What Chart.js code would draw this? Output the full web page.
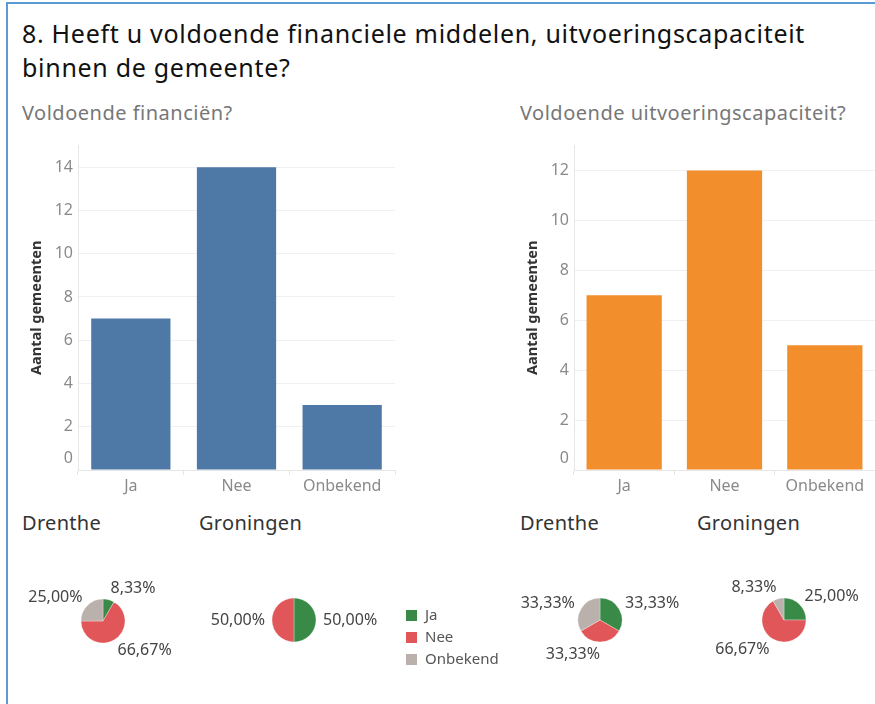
<!DOCTYPE html>
<html>
<head>
<meta charset="utf-8">
<script src="https://cdn.jsdelivr.net/npm/chart.js@4.4.0/dist/chart.umd.min.js"></script>
<style>
body { margin: 0; background: #fff; font-family: 'Noto Sans', sans-serif; }
#page { position: relative; width: 875px; height: 704px; overflow: hidden; background: #fff; }
#frame { position: absolute; left: 6px; top: 2px; width: 900px; height: 800px; border-top: 2px solid #5b9bd5; border-left: 2px solid #5b9bd5; }
.txt { position: absolute; white-space: nowrap; line-height: 1; }
.title { font-size: 25px; letter-spacing: 0.7px; color: #111; left: 22px; }
.sub { font-size: 20px; letter-spacing: 0.5px; color: #777; top: 103px; }
.region { font-size: 20px; letter-spacing: 0.3px; color: #333; top: 513px; }
.leg { position: absolute; left: 406px; font-size: 15px; color: #555; line-height: 1; }
.leg span { display: inline-block; width: 11px; height: 11px; margin-right: 8px; vertical-align: -1px; }
canvas { position: absolute; }
</style>
</head>
<body>
<div id="page">
  <div id="frame"></div>
  <div class="txt title" style="top:21px">8. Heeft u voldoende financiele middelen, uitvoeringscapaciteit</div>
  <div class="txt title" style="top:55px">binnen de gemeente?</div>
  <div class="txt sub" style="left:22px">Voldoende financiën?</div>
  <div class="txt sub" style="left:520px">Voldoende uitvoeringscapaciteit?</div>
  <div class="txt region" style="left:22px">Drenthe</div>
  <div class="txt region" style="left:199px">Groningen</div>
  <div class="txt region" style="left:520px">Drenthe</div>
  <div class="txt region" style="left:697px">Groningen</div>

  <canvas id="bar_fin" width="386" height="369" style="left:14px; top:131px"></canvas>
  <canvas id="bar_cap" width="375" height="369" style="left:500px; top:131px"></canvas>
  <canvas id="pie_dr_fin" width="200" height="120" style="left:3px; top:561px"></canvas>
  <canvas id="pie_gr_fin" width="200" height="120" style="left:194px; top:560px"></canvas>
  <canvas id="pie_dr_cap" width="200" height="120" style="left:500px; top:560px"></canvas>
  <canvas id="pie_gr_cap" width="200" height="120" style="left:684px; top:560px"></canvas>
  <div id="legend"></div>
</div>

<script>
// categories and values
const categories = ['Ja', 'Nee', 'Onbekend'];
const finTotal = [7, 14, 3];
const capTotal = [7, 12, 5];
const finDrenthe = [1, 8, 3];
const finGroningen = [6, 6, 0];
const capDrenthe = [4, 4, 4];
const capGroningen = [3, 8, 1];
const finTicks = [0, 2, 4, 6, 8, 10, 12, 14];
const capTicks = [0, 2, 4, 6, 8, 10, 12];

const pieColors = ['#3a8a47', '#e15759', '#bab0ac'];
const tickColor = '#8a8a8a';
const fontFamily = "'Noto Sans', sans-serif";

Chart.defaults.font.family = fontFamily;
Chart.defaults.animation = false;

// draws the 0 label a bit above the baseline, like the original
const zeroLabel = {
  id: 'zeroLabel',
  afterDraw(chart) {
    const y = chart.scales.y;
    const ctx = chart.ctx;
    ctx.save();
    ctx.font = '16px ' + fontFamily;
    ctx.fillStyle = tickColor;
    ctx.textAlign = 'right';
    ctx.textBaseline = 'middle';
    ctx.fillText('0', y.right - 5, y.getPixelForValue(0) - 12);
    ctx.restore();
  }
};

function barChart(id, values, tickList, color, yMax, yWidth, titlePad, padRight) {
  return new Chart(document.getElementById(id), {
    type: 'bar',
    data: {
      labels: categories,
      datasets: [{
        data: values,
        backgroundColor: color,
        borderWidth: 0,
        categoryPercentage: 1,
        barPercentage: 0.75
      }]
    },
    options: {
      responsive: false,
      layout: { padding: { top: 0, right: padRight, left: 0, bottom: 0 } },
      plugins: { legend: { display: false }, tooltip: { enabled: false } },
      scales: {
        x: {
          grid: { drawOnChartArea: false, color: '#e6e6e6', tickLength: 5 },
          border: { color: '#e6e6e6' },
          ticks: { color: tickColor, font: { size: 16 }, padding: 2 },
          afterFit: (s) => { s.height = 30; }
        },
        y: {
          min: 0,
          max: yMax,
          afterBuildTicks: (s) => { s.ticks = tickList.map(v => ({ value: v })); },
          grid: { color: '#f0f0f0', drawTicks: false },
          border: { color: '#e6e6e6' },
          ticks: {
            color: tickColor,
            font: { size: 16 },
            padding: 5,
            callback: (v) => v === 0 ? '' : v
          },
          title: {
            display: true,
            text: 'Aantal gemeenten',
            color: '#333',
            font: { size: 14.5, weight: 'bold' },
            padding: { top: titlePad, bottom: 0 }
          },
          afterFit: (s) => { s.width = yWidth; }
        }
      }
    },
    plugins: [zeroLabel]
  });
}

barChart('bar_fin', finTotal, finTicks, '#4e79a7', 15, 64, 14.3, 5);
barChart('bar_cap', capTotal, capTicks, '#f28e2b', 13, 74, 24.3, 0);

// percentage labels around each pie
const pieLabels = {
  id: 'pieLabels',
  afterDatasetsDraw(chart) {
    const ctx = chart.ctx;
    const values = chart.data.datasets[0].data;
    const total = values.reduce((a, b) => a + b, 0);
    const arcs = chart.getDatasetMeta(0).data;
    ctx.save();
    ctx.font = '16px ' + fontFamily;
    ctx.fillStyle = '#444';
    ctx.textBaseline = 'middle';
    arcs.forEach((arc, i) => {
      if (!values[i]) return;
      const mid = (arc.startAngle + arc.endAngle) / 2;
      const ux = Math.cos(mid);
      const uy = Math.sin(mid);
      const px = arc.x + ux * (arc.outerRadius + 7);
      const py = arc.y + uy * (arc.outerRadius + 12);
      ctx.textAlign = ux > 0.01 ? 'left' : 'right';
      const txt = (values[i] / total * 100).toFixed(2).replace('.', ',') + '%';
      ctx.fillText(txt, px, py);
    });
    ctx.restore();
  }
};

function pieChart(id, values) {
  return new Chart(document.getElementById(id), {
    type: 'pie',
    data: {
      labels: categories,
      datasets: [{
        data: values,
        backgroundColor: pieColors,
        borderColor: 'rgba(255,255,255,0.6)',
        borderWidth: 0.5
      }]
    },
    options: {
      responsive: false,
      radius: 22,
      layout: { padding: 0 },
      plugins: { legend: { display: false }, tooltip: { enabled: false } }
    },
    plugins: [pieLabels]
  });
}

pieChart('pie_dr_fin', finDrenthe);
pieChart('pie_gr_fin', finGroningen);
pieChart('pie_dr_cap', capDrenthe);
pieChart('pie_gr_cap', capGroningen);

// color legend
const legend = document.getElementById('legend');
categories.forEach((c, i) => {
  const row = document.createElement('div');
  row.className = 'leg';
  row.style.top = (607 + i * 22) + 'px';
  row.innerHTML = '<span style="background:' + pieColors[i] + '"></span>' + c;
  legend.appendChild(row);
});
</script>
</body>
</html>
